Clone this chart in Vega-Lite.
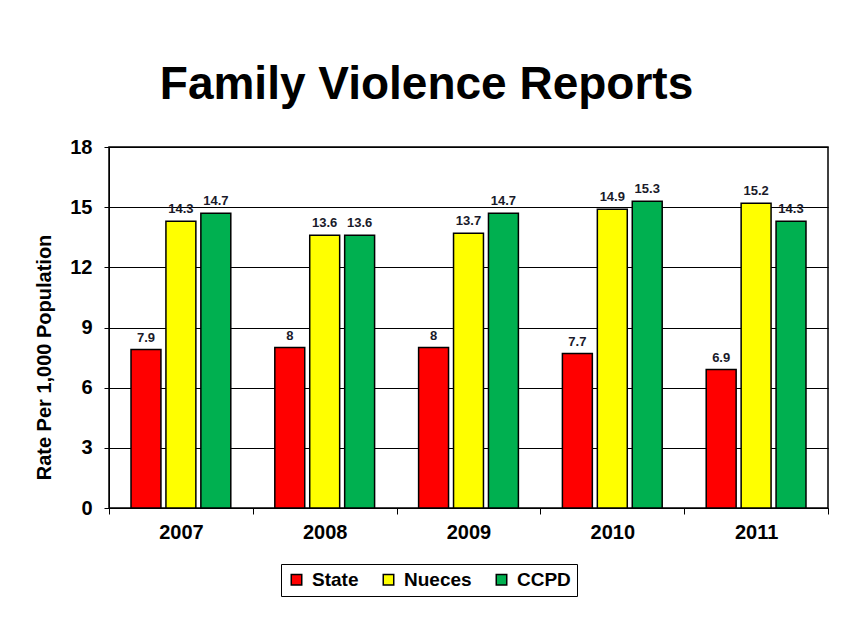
{
  "$schema": "https://vega.github.io/schema/vega-lite/v6.json",
  "width": 719,
  "height": 361,
  "autosize": {"type": "none"},
  "padding": {"left": 109, "top": 147, "right": 13, "bottom": 125},
  "background": "white",
  "title": {
    "text": "Family Violence Reports",
    "font": "Liberation Sans",
    "fontSize": 46,
    "fontWeight": "bold",
    "color": "black",
    "anchor": "middle",
    "dx": -42,
    "offset": 28
  },
  "data": {
    "values": [
      {"year": "2007", "series": "State", "rate": 7.9},
      {"year": "2007", "series": "Nueces", "rate": 14.3},
      {"year": "2007", "series": "CCPD", "rate": 14.7},
      {"year": "2008", "series": "State", "rate": 8},
      {"year": "2008", "series": "Nueces", "rate": 13.6},
      {"year": "2008", "series": "CCPD", "rate": 13.6},
      {"year": "2009", "series": "State", "rate": 8},
      {"year": "2009", "series": "Nueces", "rate": 13.7},
      {"year": "2009", "series": "CCPD", "rate": 14.7},
      {"year": "2010", "series": "State", "rate": 7.7},
      {"year": "2010", "series": "Nueces", "rate": 14.9},
      {"year": "2010", "series": "CCPD", "rate": 15.3},
      {"year": "2011", "series": "State", "rate": 6.9},
      {"year": "2011", "series": "Nueces", "rate": 15.2},
      {"year": "2011", "series": "CCPD", "rate": 14.3}
    ]
  },
  "encoding": {
    "x": {
      "field": "year",
      "type": "nominal",
      "scale": {"paddingInner": 0, "paddingOuter": 0},
      "axis": {
        "title": null,
        "labelAngle": 0,
        "labelFont": "Liberation Sans",
        "labelFontSize": 20,
        "labelFontWeight": "bold",
        "labelColor": "black",
        "labelPadding": 8,
        "tickBand": "extent",
        "tickSize": 6,
        "tickColor": "black",
        "domainColor": "black",
        "grid": false
      }
    },
    "xOffset": {
      "field": "series",
      "type": "nominal",
      "sort": ["State", "Nueces", "CCPD"],
      "scale": {"paddingInner": 0.143, "paddingOuter": 0.63}
    },
    "y": {
      "field": "rate",
      "type": "quantitative",
      "scale": {"domain": [0, 18], "nice": false},
      "axis": {
        "title": "Rate Per 1,000 Population",
        "titleFont": "Liberation Sans",
        "titleFontSize": 20,
        "titleFontWeight": "bold",
        "titleColor": "black",
        "titlePadding": 15,
        "titleY": 210,
        "values": [0, 3, 6, 9, 12, 15, 18],
        "labelFont": "Liberation Sans",
        "labelFontSize": 20,
        "labelFontWeight": "bold",
        "labelColor": "black",
        "labelPadding": 12,
        "tickSize": 5,
        "tickColor": "black",
        "domainColor": "black",
        "gridColor": "black",
        "gridOpacity": 1,
        "gridWidth": 1
      }
    }
  },
  "layer": [
    {
      "mark": {"type": "bar", "stroke": "black", "strokeWidth": 1.5},
      "encoding": {
        "color": {
          "field": "series",
          "type": "nominal",
          "sort": ["State", "Nueces", "CCPD"],
          "scale": {"domain": ["State", "Nueces", "CCPD"], "range": ["#FF0000", "#FFFF00", "#00B050"]},
          "legend": {
            "orient": "none",
            "legendX": 172,
            "legendY": 417,
            "direction": "horizontal",
            "title": null,
            "symbolType": "square",
            "symbolSize": 110,
            "symbolStrokeColor": "black",
            "symbolStrokeWidth": 1.5,
            "symbolOpacity": 1,
            "labelFont": "Liberation Sans",
            "labelFontSize": 19,
            "labelFontWeight": "bold",
            "labelColor": "black",
            "labelOffset": 6,
            "columnPadding": 20,
            "strokeColor": "black",
            "padding": 6,
            "fillColor": "white"
          }
        }
      }
    },
    {
      "mark": {"type": "text", "dy": -12, "font": "Liberation Sans", "fontSize": 13, "fontWeight": "bold", "color": "#1a1a2a"},
      "encoding": {
        "text": {"field": "rate", "type": "quantitative"}
      }
    }
  ],
  "config": {
    "view": {"stroke": "black", "strokeWidth": 1.5}
  }
}
